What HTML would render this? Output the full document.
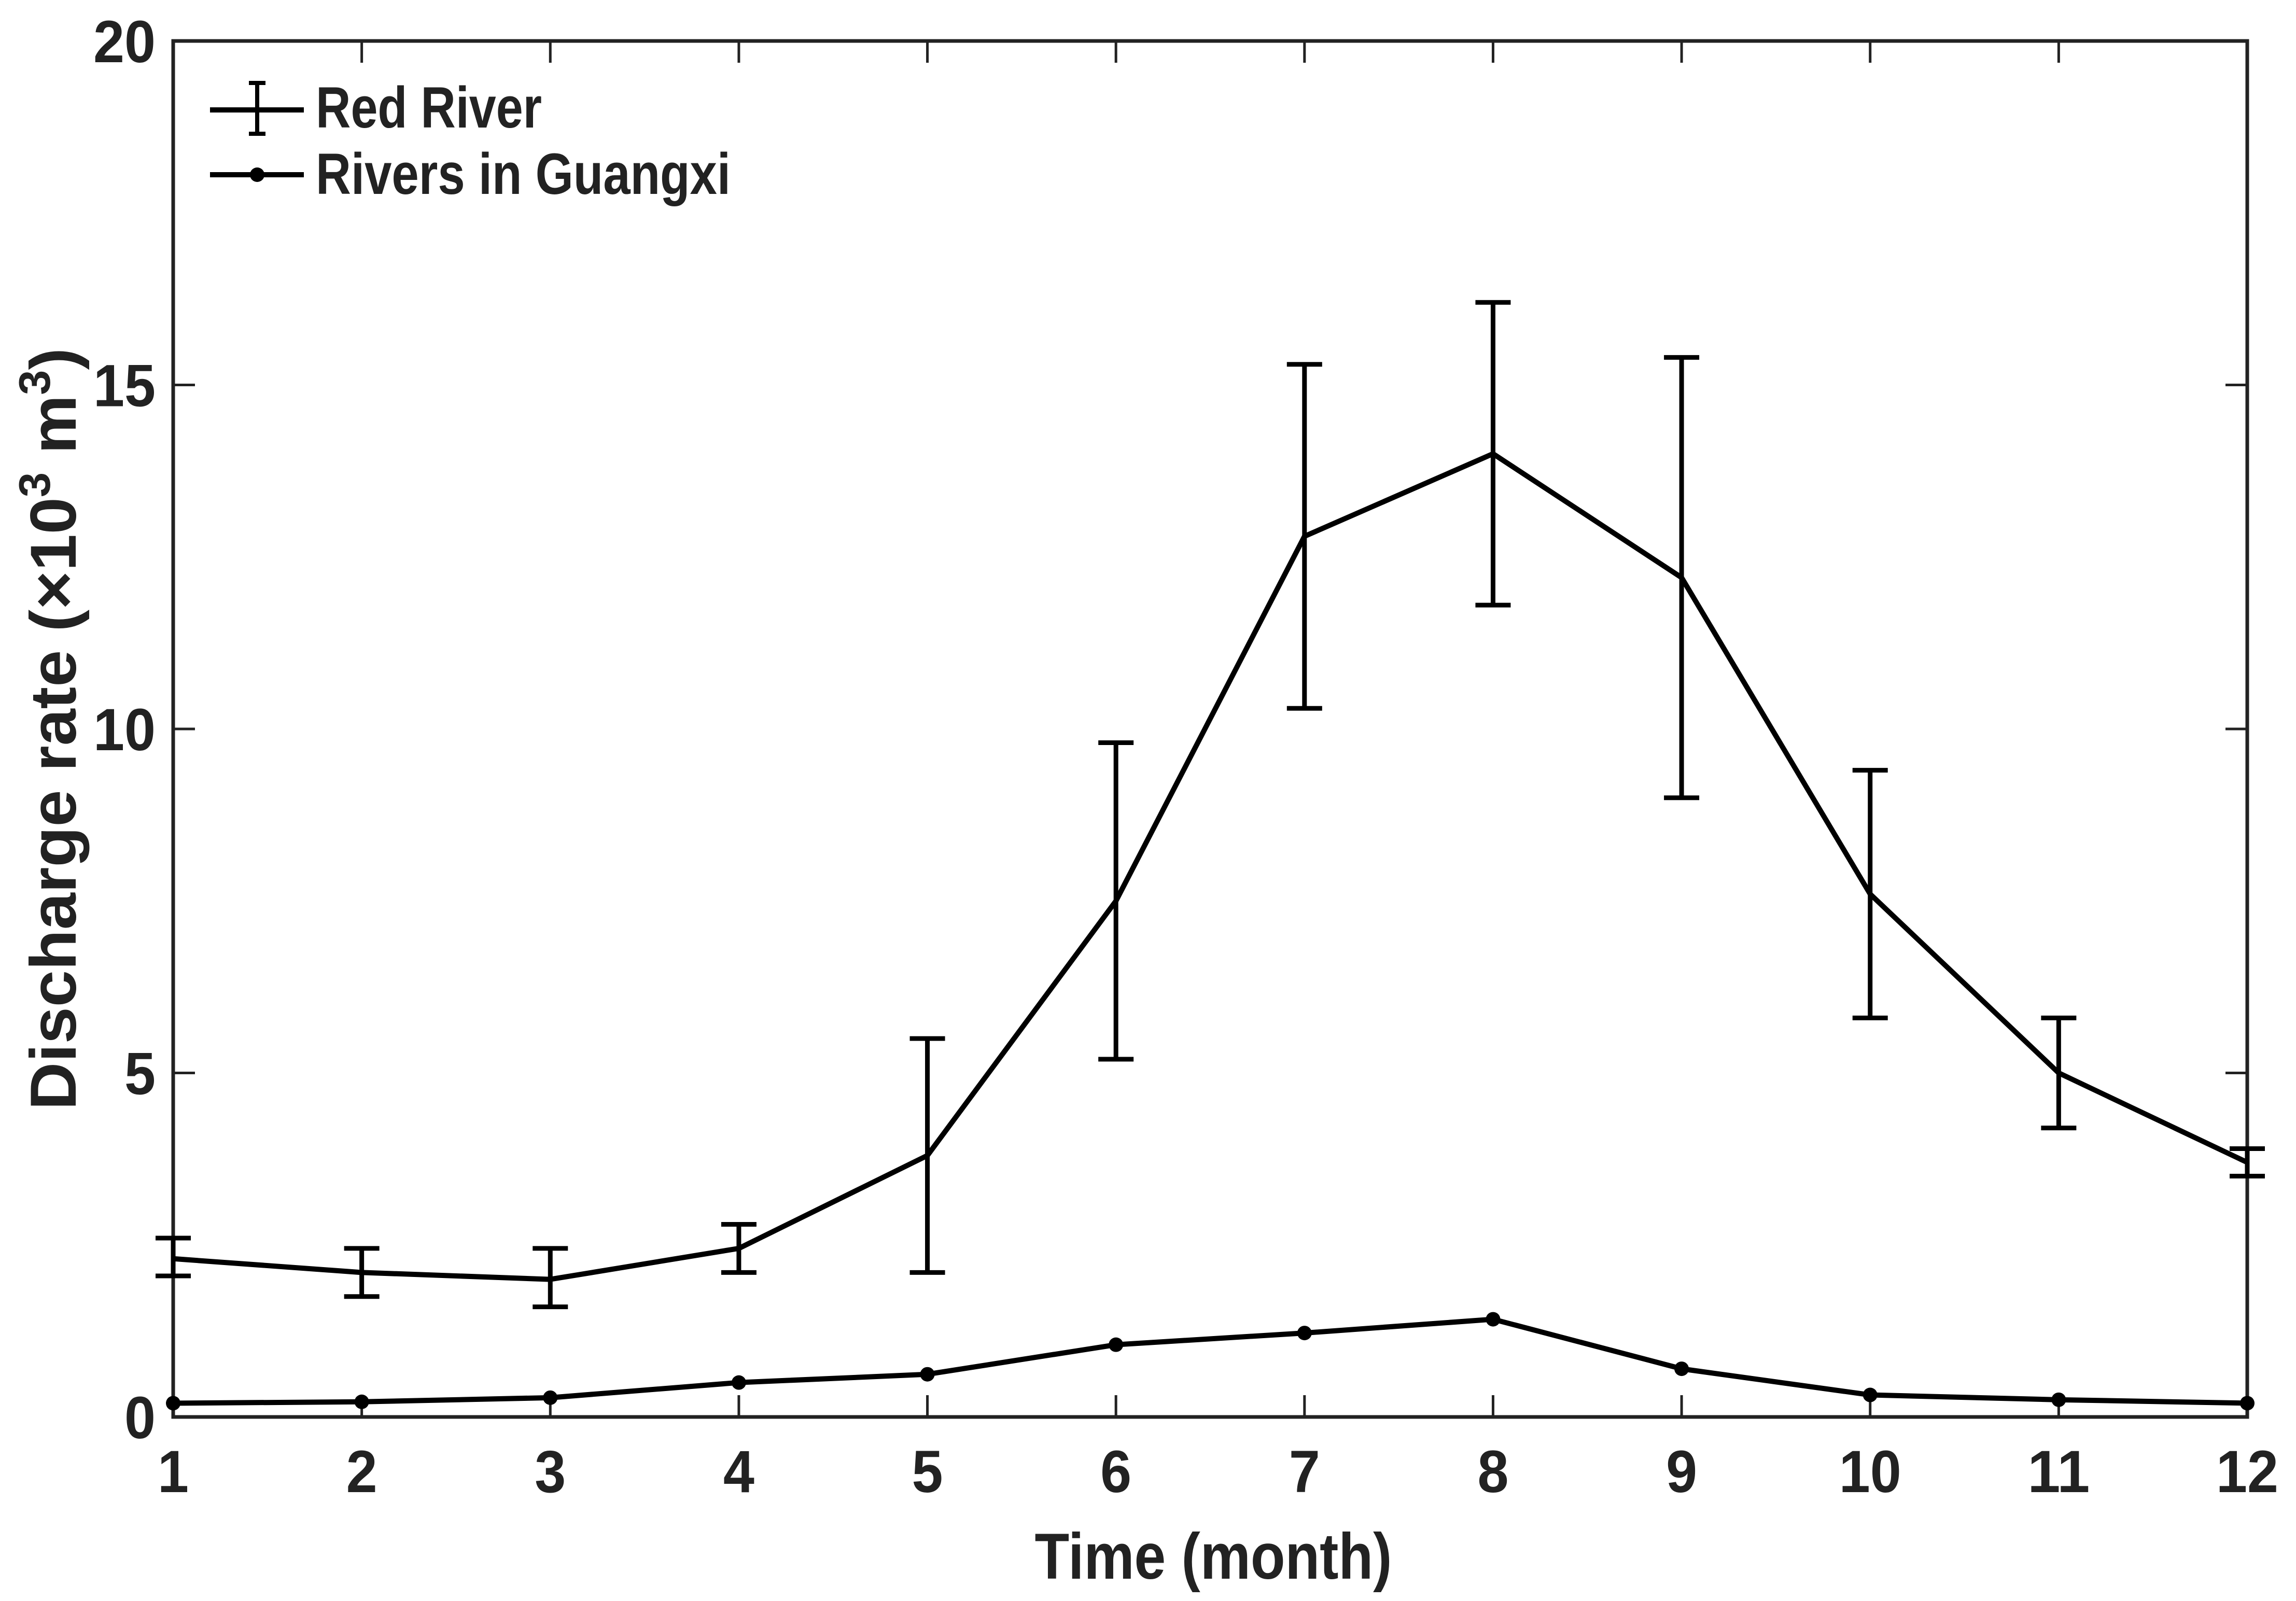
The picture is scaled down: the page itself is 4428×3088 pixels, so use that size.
<!DOCTYPE html>
<html><head><meta charset="utf-8"><style>
html,body{margin:0;padding:0;background:#fff;}
svg{display:block;}
text{font-family:"Liberation Sans Narrow","Liberation Sans",sans-serif;font-weight:bold;fill:#222;}
</style></head><body>
<svg id="chart" width="4428" height="3088" viewBox="0 0 4428 3088" xmlns="http://www.w3.org/2000/svg">
<rect x="0" y="0" width="4428" height="3088" fill="#fff"/>
<g id="plot"></g>
</svg>
<script>
const months = [1,2,3,4,5,6,7,8,9,10,11,12];
const redMean = [2.3,2.1,2.0,2.45,3.8,7.5,12.8,14.0,12.2,7.6,5.0,3.7];
const redLow = [2.05,1.75,1.6,2.1,2.1,5.2,10.3,11.8,9.0,5.8,4.2,3.5];
const redHigh = [2.6,2.45,2.45,2.8,5.5,9.8,15.3,16.2,15.4,9.4,5.8,3.9];
const guangxi = [0.2,0.22,0.28,0.5,0.62,1.05,1.22,1.42,0.7,0.32,0.25,0.2];
const xTicks = [1,2,3,4,5,6,7,8,9,10,11,12];
const yTicks = [0,5,10,15,20];

const X0=334,X1=4334,Y0=2733,Y1=79;
function sx(v){return X0+(v-1)/(12-1)*(X1-X0);}
function sy(v){return Y0-(v-0)/(20-0)*(Y0-Y1);}
const NS="http://www.w3.org/2000/svg";
const g=document.getElementById('plot');
function mk(tag,attrs,parent){const e=document.createElementNS(NS,tag);for(const k in attrs)e.setAttribute(k,attrs[k]);(parent||g).appendChild(e);return e;}

const box=mk('rect',{x:X0,y:Y1,width:X1-X0,height:Y0-Y1,fill:'none',stroke:'#222','stroke-width':7});



xTicks.forEach(t=>{
  const x=sx(t);
  const a=mk('line',{x1:x,y1:Y0,x2:x,y2:Y0-42,stroke:'#222','stroke-width':5});
  
  
  const b=mk('line',{x1:x,y1:Y1,x2:x,y2:Y1+42,stroke:'#222','stroke-width':5});
  
  
  const s=String(t);
  const l=mk('text',{x:x,y:2878,'font-size':115,'text-anchor':'middle',textLength:s.length*60,lengthAdjust:'spacingAndGlyphs'});
  l.textContent=s;
  
  
});
yTicks.forEach(t=>{
  const y=sy(t);
  const a=mk('line',{x1:X0,y1:y,x2:X0+42,y2:y,stroke:'#222','stroke-width':5});
  
  
  const b=mk('line',{x1:X1,y1:y,x2:X1-42,y2:y,stroke:'#222','stroke-width':5});
  
  
  const s=String(t);
  const l=mk('text',{x:300,y:y+41,'font-size':115,'text-anchor':'end',textLength:s.length*60,lengthAdjust:'spacingAndGlyphs'});
  l.textContent=s;
  
  
});

const rl=mk('polyline',{points:months.map((m,i)=>sx(m)+','+sy(redMean[i])).join(' '),fill:'none',stroke:'#000','stroke-width':10,'stroke-linejoin':'round'});


months.forEach((m,i)=>{
  const x=sx(m),lo=sy(redLow[i]),hi=sy(redHigh[i]);
  const e=mk('path',{d:`M${x},${lo}V${hi}M${x-34},${lo}H${x+34}M${x-34},${hi}H${x+34}`,stroke:'#000','stroke-width':9,fill:'none'});
  
  
});

const gl=mk('polyline',{points:months.map((m,i)=>sx(m)+','+sy(guangxi[i])).join(' '),fill:'none',stroke:'#000','stroke-width':10,'stroke-linejoin':'round'});


months.forEach((m,i)=>{
  const c=mk('circle',{cx:sx(m),cy:sy(guangxi[i]),r:14,fill:'#000'});
  
  
});
</script>
<svg style="position:absolute;left:0;top:0" width="4428" height="3088" xmlns="http://www.w3.org/2000/svg">
<g>
  <line x1="405" y1="212" x2="586" y2="212" stroke="#000" stroke-width="10"/>
  <path d="M496,160V258M480,160H512M480,258H512" stroke="#000" stroke-width="8" fill="none"/>
  <text x="609" y="246" font-size="112" textLength="436" lengthAdjust="spacingAndGlyphs">Red River</text>
  <line x1="405" y1="337" x2="586" y2="337" stroke="#000" stroke-width="10"/>
  <circle cx="496" cy="337" r="14" fill="#000"/>
  <text x="609" y="374" font-size="112" textLength="800" lengthAdjust="spacingAndGlyphs">Rivers in Guangxi</text>
</g>
<text x="2340" y="3045" font-size="125" text-anchor="middle" textLength="689" lengthAdjust="spacingAndGlyphs">Time (month)</text>
<text transform="translate(146,1406) rotate(-90)" x="0" y="0" font-size="125" text-anchor="middle" textLength="1470" lengthAdjust="spacingAndGlyphs">Discharge rate (×10<tspan dy="-50" font-size="85">3</tspan><tspan dy="50"> m</tspan><tspan dy="-50" font-size="85">3</tspan><tspan dy="50">)</tspan></text>
</svg>
</body></html>
